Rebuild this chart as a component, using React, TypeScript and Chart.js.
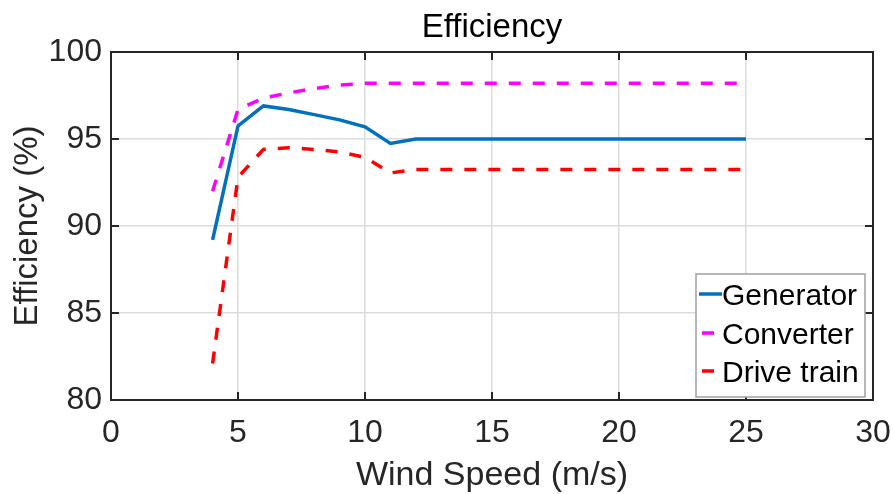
import { useEffect, useRef } from "react";
import { Chart, registerables } from "chart.js";

Chart.register(...registerables);

// Wind speed samples (m/s)
const windSpeed = [4, 5, 6, 7, 8, 9, 10, 11, 12, 13, 14, 15, 16, 17, 18, 19, 20, 21, 22, 23, 24, 25];

// Efficiencies (%) at each wind speed
const generator = [89.2, 95.75, 96.9, 96.7, 96.4, 96.1, 95.7, 94.75, 95.0, 95.0, 95.0, 95.0, 95.0, 95.0, 95.0, 95.0, 95.0, 95.0, 95.0, 95.0, 95.0, 95.0];
const converter = [92.0, 96.7, 97.35, 97.65, 97.9, 98.1, 98.2, 98.2, 98.2, 98.2, 98.2, 98.2, 98.2, 98.2, 98.2, 98.2, 98.2, 98.2, 98.2, 98.2, 98.2, 98.2];
const driveTrain = [82.1, 92.8, 94.4, 94.5, 94.4, 94.25, 93.95, 93.05, 93.25, 93.25, 93.25, 93.25, 93.25, 93.25, 93.25, 93.25, 93.25, 93.25, 93.25, 93.25, 93.25, 93.25];

const seriesLabels = ["Generator", "Converter", "Drive train"];

const xTicks = [0, 5, 10, 15, 20, 25, 30];
const yTicks = [80, 85, 90, 95, 100];

const chartTitle = "Efficiency";
const xTitle = "Wind Speed (m/s)";
const yTitle = "Efficiency (%)";

const FONT = "'Liberation Sans', Arial, sans-serif";
const AXIS_COLOR = "#262626";

const toPoints = (ys: number[]) => windSpeed.map((x, i) => ({ x, y: ys[i] }));

// Axes box with inward ticks, titles and a boxed legend
const framePlugin = {
  id: "frame",
  afterDatasetsDraw(chart: any) {
    const { ctx, chartArea, scales } = chart;
    const { left, right, top, bottom } = chartArea;
    const xs = scales.x;
    const ys = scales.y;
    const tickLen = 8;

    ctx.save();
    ctx.strokeStyle = AXIS_COLOR;
    ctx.lineWidth = 2;
    ctx.strokeRect(left, top, right - left, bottom - top);

    ctx.beginPath();
    for (const v of xTicks) {
      const px = xs.getPixelForValue(v);
      ctx.moveTo(px, bottom);
      ctx.lineTo(px, bottom - tickLen);
      ctx.moveTo(px, top);
      ctx.lineTo(px, top + tickLen);
    }
    for (const v of yTicks) {
      const py = ys.getPixelForValue(v);
      ctx.moveTo(left, py);
      ctx.lineTo(left + tickLen, py);
      ctx.moveTo(right, py);
      ctx.lineTo(right - tickLen, py);
    }
    ctx.stroke();

    const cx = (left + right) / 2;
    const cy = (top + bottom) / 2;

    // Title
    ctx.fillStyle = "#000000";
    ctx.font = `33px ${FONT}`;
    ctx.textAlign = "center";
    ctx.textBaseline = "alphabetic";
    ctx.fillText(chartTitle, cx, 37);

    // X axis title
    ctx.fillStyle = AXIS_COLOR;
    ctx.font = `34px ${FONT}`;
    ctx.fillText(xTitle, cx, 485);

    // Y axis title
    ctx.save();
    ctx.translate(37, cy);
    ctx.rotate(-Math.PI / 2);
    ctx.font = `33px ${FONT}`;
    ctx.fillText(yTitle, 0, 0);
    ctx.restore();

    // Legend
    const bx = 696;
    const by = 274;
    const bw = 169;
    const bh = 123;
    ctx.fillStyle = "#ffffff";
    ctx.fillRect(bx, by, bw, bh);
    ctx.strokeStyle = "#a0a0a0";
    ctx.lineWidth = 1.5;
    ctx.strokeRect(bx, by, bw, bh);

    const baselines = [305, 344, 382];
    chart.data.datasets.forEach((ds: any, i: number) => {
      const ly = baselines[i] - 11;
      ctx.save();
      ctx.strokeStyle = ds.borderColor;
      ctx.lineWidth = ds.borderWidth;
      if (ds.borderDash && ds.borderDash.length) {
        ctx.setLineDash(ds.borderDash);
        ctx.lineDashOffset = -3;
      }
      ctx.beginPath();
      ctx.moveTo(699, ly);
      ctx.lineTo(722, ly);
      ctx.stroke();
      ctx.restore();

      ctx.fillStyle = "#000000";
      ctx.font = `30px ${FONT}`;
      ctx.textAlign = "left";
      ctx.textBaseline = "alphabetic";
      ctx.fillText(ds.label, 722, baselines[i]);
    });

    ctx.restore();
  },
};

export default function App() {
  const canvasRef = useRef<HTMLCanvasElement | null>(null);

  useEffect(() => {
    if (!canvasRef.current) return;
    const chart = new Chart(canvasRef.current, {
      type: "line",
      data: {
        datasets: [
          {
            label: seriesLabels[0],
            data: toPoints(generator),
            borderColor: "#0072BD",
            borderWidth: 3.5,
            pointRadius: 0,
            tension: 0,
          },
          {
            label: seriesLabels[1],
            data: toPoints(converter),
            borderColor: "#FF00FF",
            borderWidth: 3.5,
            borderDash: [12, 12],
            pointRadius: 0,
            tension: 0,
          },
          {
            label: seriesLabels[2],
            data: toPoints(driveTrain),
            borderColor: "#FF0000",
            borderWidth: 3.5,
            borderDash: [12, 12],
            pointRadius: 0,
            tension: 0,
          },
        ],
      },
      options: {
        responsive: false,
        animation: false,
        layout: { padding: { left: 0, top: 52, right: 19, bottom: 0 } },
        plugins: {
          legend: { display: false },
          title: { display: false },
          tooltip: { enabled: false },
        },
        scales: {
          x: {
            type: "linear",
            min: 0,
            max: 30,
            afterFit: (s: any) => {
              s.height = 94;
              s.paddingLeft = 0;
              s.paddingRight = 0;
            },
            afterBuildTicks: (s: any) => {
              s.ticks = xTicks.map((value) => ({ value }));
            },
            border: { display: false },
            grid: { color: "#dcdcdc", lineWidth: 1.5, drawTicks: false },
            ticks: {
              padding: 14,
              maxRotation: 0,
              autoSkip: false,
              color: AXIS_COLOR,
              font: { family: FONT, size: 32 },
            },
          },
          y: {
            type: "linear",
            min: 80,
            max: 100,
            afterFit: (s: any) => {
              s.width = 111;
              s.paddingTop = 0;
              s.paddingBottom = 0;
            },
            afterBuildTicks: (s: any) => {
              s.ticks = yTicks.map((value) => ({ value }));
            },
            border: { display: false },
            grid: { color: "#dcdcdc", lineWidth: 1.5, drawTicks: false },
            ticks: {
              padding: 9,
              color: AXIS_COLOR,
              font: { family: FONT, size: 32 },
            },
          },
        },
      },
      plugins: [framePlugin],
    });
    return () => chart.destroy();
  }, []);

  return (
    <div style={{ position: "absolute", left: 0, top: 0, width: 892, height: 494, background: "#ffffff" }}>
      <canvas ref={canvasRef} width={892} height={494} style={{ display: "block" }} />
    </div>
  );
}
